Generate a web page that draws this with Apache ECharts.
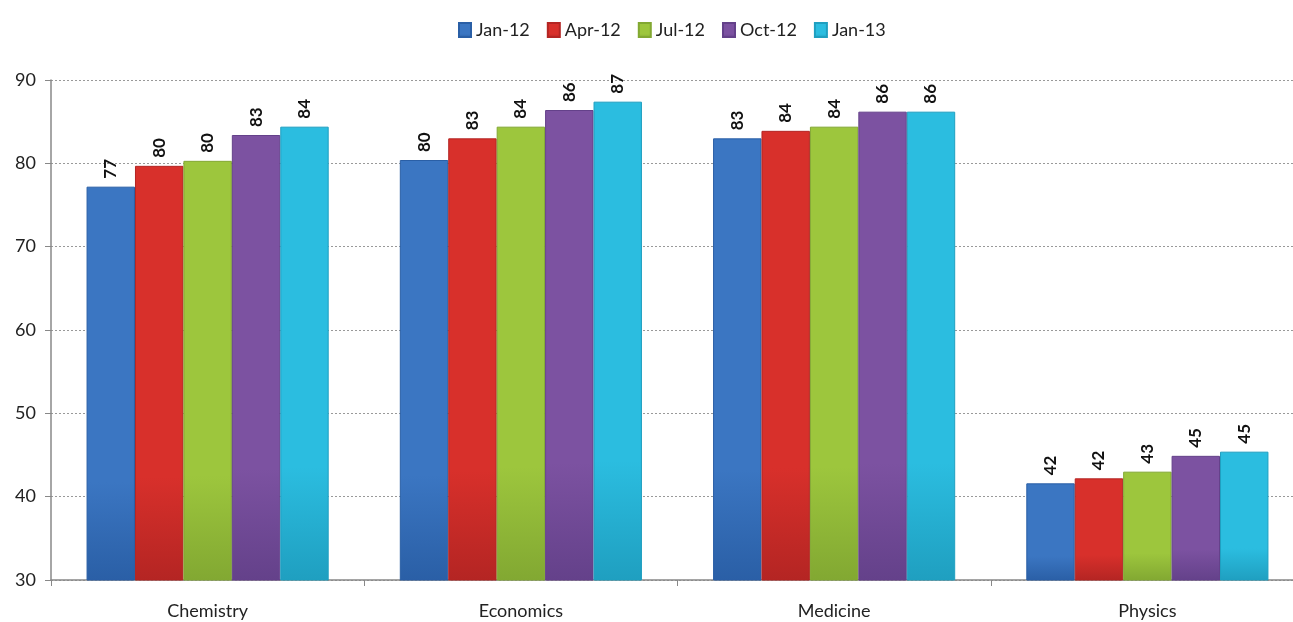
<!DOCTYPE html>
<html><head><meta charset="utf-8">
<script src="https://cdn.jsdelivr.net/npm/echarts@6/dist/echarts.min.js"></script>
<style>html,body{margin:0;padding:0;background:#fff}#c{width:1293px;height:622px}</style>
</head><body><div id="c"></div>
<script>
const categories = ['Chemistry', 'Economics', 'Medicine', 'Physics'];
const seriesNames = ['Jan-12', 'Apr-12', 'Jul-12', 'Oct-12', 'Jan-13'];
const jan12 = [77.2, 80.4, 83.0, 41.6];
const apr12 = [79.7, 83.0, 83.9, 42.2];
const jul12 = [80.3, 84.4, 84.4, 43.0];
const oct12 = [83.4, 86.4, 86.2, 44.9];
const jan13 = [84.4, 87.4, 86.2, 45.4];
const yTicks = [30, 40, 50, 60, 70, 80, 90];
const colors = ['#3b76c2', '#d8302b', '#9dc63d', '#7c52a1', '#2bbde0'];
const darks = ['#2a5fa6', '#b42523', '#82a832', '#64418a', '#1f9fc0'];
const allData = [jan12, apr12, jul12, oct12, jan13];

const chart = echarts.init(document.getElementById('c'), null, {renderer: 'canvas'});
const font = 'Lato, "Open Sans", sans-serif';
chart.setOption({
  animation: false,
  textStyle: {fontFamily: font},
  legend: {
    top: 16, left: 453, itemWidth: 12, itemHeight: 14, itemGap: 17,
    icon: 'rect',
    textStyle: {fontSize: 18, color: '#222', fontFamily: font},
    data: seriesNames
  },
  grid: {left: 51, width: 1253, top: 80, bottom: 42, containLabel: false, outerBoundsMode: 'none'},
  xAxis: {
    type: 'category', data: categories,
    axisLine: {lineStyle: {color: '#888', width: 1.5}},
    axisTick: {show: true, alignWithLabel: false, length: 6, lineStyle: {color: '#888'}},
    axisLabel: {fontSize: 18, color: '#222', margin: 22, fontFamily: font}
  },
  yAxis: {
    type: 'value', min: yTicks[0], max: yTicks[yTicks.length - 1], interval: 10,
    axisLine: {show: true, lineStyle: {color: '#888', width: 1.5}},
    axisTick: {show: true, length: 6, lineStyle: {color: '#888'}},
    axisLabel: {fontSize: 18, color: '#222', margin: 15, fontFamily: font},
    splitLine: {lineStyle: {color: '#999', type: [2, 2], width: 1}}
  },
  series: seriesNames.map((n, i) => ({
    name: n, type: 'bar', data: allData[i], color: colors[i],
    barGap: '0%', barCategoryGap: '22.7%',
    itemStyle: {
      color: new echarts.graphic.LinearGradient(0, 0, 0, 1, [
        {offset: 0, color: colors[i]},
        {offset: 0.75, color: colors[i]},
        {offset: 1, color: darks[i]}
      ]),
      borderColor: darks[i], borderWidth: 1
    },
    label: {
      show: true, position: 'top', rotate: 90, align: 'left', verticalAlign: 'middle',
      distance: 8, fontSize: 17, fontWeight: 'bold', color: '#111', fontFamily: font,
      formatter: p => Math.round(p.value)
    }
  }))
});
</script></body></html>
